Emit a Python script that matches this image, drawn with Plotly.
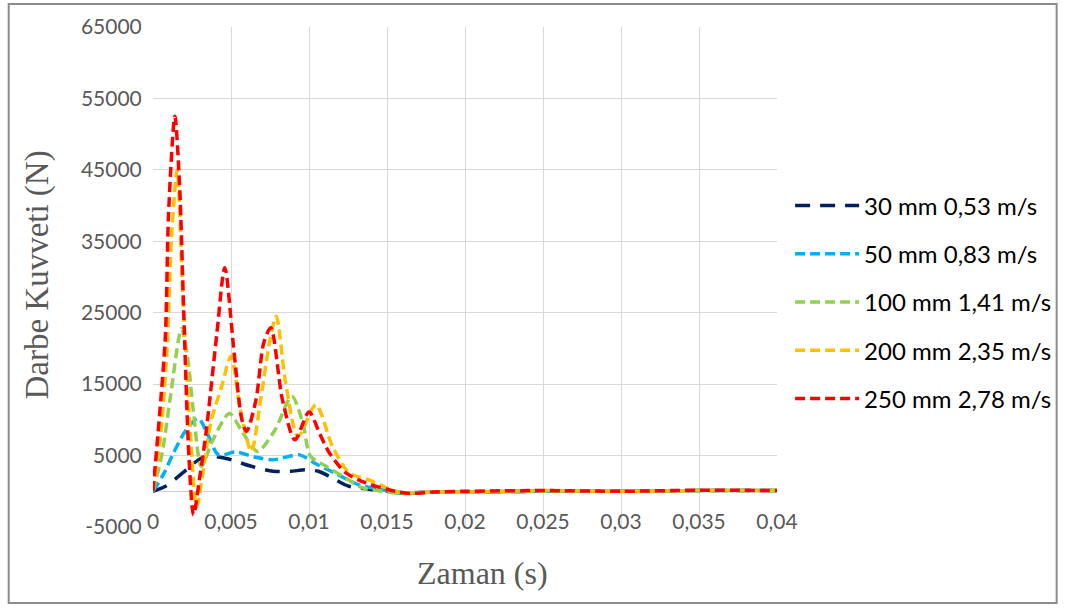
import plotly.graph_objects as go

# --- data (time in s, force in N) ---
t_30 = [0, 0.0008, 0.0015, 0.0023, 0.0029, 0.0034, 0.0047, 0.0063, 0.0077, 0.0088, 0.0098, 0.0106, 0.0113,
        0.01256, 0.0143, 0.016, 0.018, 0.02, 0.025, 0.03, 0.035, 0.04]
f_30 = [0, 700, 1850, 3300, 4400, 4900, 4600, 3500, 2800, 2800, 3000, 2800, 2100,
        700, 200, -200, -100, -100, 0, 0, 100, 100]

t_50 = [0, 0.0007, 0.0013, 0.0021, 0.0029, 0.0035, 0.0042, 0.0053, 0.0065, 0.0077, 0.0094, 0.0104, 0.0117,
        0.0132, 0.0147, 0.016, 0.018, 0.02, 0.025, 0.03, 0.035, 0.04]
f_50 = [0, 2500, 5300, 8500, 10200, 8000, 5100, 5500, 4800, 4400, 5100, 3900, 2500,
        900, 200, -300, -100, -100, 0, 0, 100, 100]

t_100 = [0, 0.0006, 0.0011, 0.00183, 0.0022, 0.0026, 0.0031, 0.0038, 0.0049, 0.0057, 0.0067, 0.0078, 0.0089,
         0.0096, 0.0101, 0.0111, 0.01235, 0.0134, 0.0147, 0.016, 0.018, 0.02, 0.025, 0.03, 0.035, 0.04]
f_100 = [0, 5500, 13000, 22800, 19000, 11000, 3500, 7000, 10900, 8400, 5600, 8500, 13300,
         9600, 4900, 3500, 1850, 500, 0, -300, -100, -100, 0, 0, 100, 100]

t_200 = [0, 0.0005, 0.0009, 0.0012, 0.00155, 0.0019, 0.0024, 0.0028, 0.0032, 0.0037, 0.0044, 0.005, 0.0056,
         0.0063, 0.0069, 0.0075, 0.0079, 0.0085, 0.0093, 0.01044, 0.0115, 0.01256, 0.01384, 0.0155, 0.016,
         0.018, 0.02, 0.025, 0.03, 0.035, 0.04]
f_200 = [0, 8000, 20000, 36000, 45000, 28000, 8000, -2200, 2600, 9600, 14700, 18900, 11400,
         5600, 12800, 21200, 24500, 15200, 7700, 12100, 6300, 2600, 1600, 0, -200,
         -100, -100, 100, 0, 100, 100]

t_250 = [0, 0.0005, 0.0008, 0.001, 0.0014, 0.0017, 0.002, 0.0023, 0.0026, 0.003, 0.0034, 0.0041, 0.0046,
         0.0052, 0.0057, 0.006, 0.0066, 0.0071, 0.00755, 0.0083, 0.0091, 0.01, 0.0107, 0.0113, 0.01235,
         0.0136, 0.0155, 0.0165, 0.018, 0.02, 0.025, 0.03, 0.035, 0.04]
f_250 = [0, 12800, 22000, 39000, 52500, 43000, 23000, 5000, -3300, 2000, 8200, 22200, 31300,
         19400, 10000, 8400, 12800, 20800, 22900, 12800, 7200, 11100, 8000, 5400, 2600,
         1200, 0, -300, -100, 0, 100, 0, 150, 100]

names = ["30 mm 0,53 m/s", "50 mm 0,83 m/s", "100 mm 1,41 m/s", "200 mm 2,35 m/s", "250 mm 2,78 m/s"]
colors = ["#002060", "#00B0F0", "#92D050", "#FFC000", "#FF0000"]
dashes = ["15px,10px", "10px,5px", "10px,5px", "10px,5px", "10px,5px"]

y_ticks = [-5000, 5000, 15000, 25000, 35000, 45000, 55000, 65000]
y_tick_text = ["-5000", "5000", "15000", "25000", "35000", "45000", "55000", "65000"]

series = [(t_30, f_30), (t_50, f_50), (t_100, f_100), (t_200, f_200), (t_250, f_250)]

fig = go.Figure()
for (t, f), name, col, dash in zip(series, names, colors, dashes):
    fig.add_trace(go.Scatter(
        x=t, y=f, mode='lines', name=name, legendgroup=name,
        line=dict(color=col, width=3.5, dash=dash, shape='spline', smoothing=0.8),
    ))

grey = '#595959'
fig.update_layout(
    width=1068, height=608,
    margin=dict(l=153, r=288, t=27, b=81),
    paper_bgcolor='white', plot_bgcolor='white',
    separators=',.',
    showlegend=True,
    legend=dict(x=1.021, y=0.45, xanchor='left', yanchor='middle', bgcolor='rgba(0,0,0,0)',
                font=dict(family='Lato', size=24, color='black'),
                tracegroupgap=14, itemwidth=64),
    xaxis=dict(range=[0, 0.04], dtick=0.005, tick0=0, showgrid=True, gridcolor='#D9D9D9', gridwidth=1,
               zeroline=False, showline=False, ticks='',
               anchor='free', position=0.04,
               tickfont=dict(family='Lato', size=21, color=grey)),
    yaxis=dict(range=[-5000, 65000], tickvals=y_ticks, ticktext=y_tick_text, showgrid=True,
               gridcolor='#D9D9D9', gridwidth=1, zeroline=True, zerolinecolor='#D0D0D0', zerolinewidth=1,
               showline=False, ticks='outside', ticklen=6, tickcolor='rgba(0,0,0,0)',
               tickfont=dict(family='Lato', size=21, color=grey)),
)

# axis titles
fig.add_annotation(text="Darbe Kuvveti (N)", xref='paper', yref='paper', x=(36 - 153) / 627, y=(527 - 275) / 500,
                   xanchor='center', yanchor='middle',
                   textangle=-90, showarrow=False, font=dict(family='Liberation Serif', size=33, color=grey))
fig.add_annotation(text="Zaman (s)", xref='paper', yref='paper', x=(484 - 153) / 627, y=(527 - 573) / 500,
                   xanchor='center', yanchor='middle',
                   showarrow=False, font=dict(family='Liberation Serif', size=32, color=grey))

# chart border
fig.add_shape(type='rect', xref='paper', yref='paper',
              x0=(8 - 153) / 627, x1=(1061 - 153) / 627, y0=(527 - 603) / 500, y1=(527 - 4) / 500,
              line=dict(color='#8C8C8C', width=2))

fig.write_html("out.html", config={'displayModeBar': False},
               post_script="document.body.style.margin='0';")
